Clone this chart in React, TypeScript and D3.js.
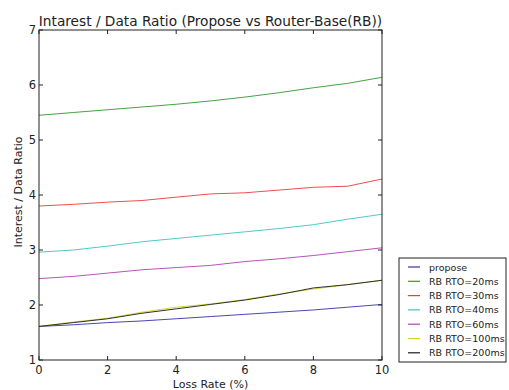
import React, { useRef, useEffect } from "react";
import * as d3 from "d3";

const LOSS_RATES = [0, 1, 2, 3, 4, 5, 6, 7, 8, 9, 10];
const PROPOSE = [1.61, 1.64, 1.68, 1.71, 1.75, 1.79, 1.83, 1.87, 1.91, 1.96, 2.01];
const RB_20 = [5.45, 5.5, 5.55, 5.6, 5.65, 5.71, 5.78, 5.86, 5.95, 6.03, 6.14];
const RB_30 = [3.8, 3.83, 3.87, 3.9, 3.96, 4.02, 4.04, 4.09, 4.14, 4.16, 4.29];
const RB_40 = [2.96, 3.0, 3.07, 3.15, 3.21, 3.27, 3.33, 3.39, 3.46, 3.56, 3.65];
const RB_60 = [2.48, 2.52, 2.58, 2.64, 2.68, 2.72, 2.79, 2.84, 2.9, 2.97, 3.04];
const RB_100 = [1.61, 1.69, 1.76, 1.87, 1.96, 2.02, 2.1, 2.2, 2.29, 2.37, 2.45];
const RB_200 = [1.61, 1.68, 1.75, 1.85, 1.93, 2.01, 2.09, 2.19, 2.31, 2.37, 2.45];

const SERIES_NAMES = [
  "propose",
  "RB RTO=20ms",
  "RB RTO=30ms",
  "RB RTO=40ms",
  "RB RTO=60ms",
  "RB RTO=100ms",
  "RB RTO=200ms",
];
const SERIES_VALUES = [PROPOSE, RB_20, RB_30, RB_40, RB_60, RB_100, RB_200];
const SERIES_COLORS = ["#3434a8", "#2f9a2f", "#ee3a3a", "#3cc4c4", "#b040b0", "#d4d42a", "#1a1a1a"];

const X_TICKS = [0, 2, 4, 6, 8, 10];
const Y_TICKS = [1, 2, 3, 4, 5, 6, 7];

const W = 509;
const H = 390;
const FONT = "'DejaVu Sans', sans-serif";

const App: React.FC = () => {
  const svgRef = useRef<SVGSVGElement | null>(null);

  useEffect(() => {
    if (!svgRef.current) return;
    const svg = d3.select(svgRef.current);
    svg.selectAll("*").remove();

    const margin = { top: 30, right: 127, bottom: 30, left: 39 };
    const innerW = W - margin.left - margin.right;
    const innerH = H - margin.top - margin.bottom;

    const x = d3.scaleLinear().domain([0, 10]).range([0, innerW]);
    const y = d3.scaleLinear().domain([1, 7]).range([innerH, 0]);

    const g = svg.append("g").attr("transform", `translate(${margin.left},${margin.top})`);

    // 线
    const line = d3
      .line<number>()
      .x((_, i) => x(LOSS_RATES[i]))
      .y((d) => y(d));

    SERIES_VALUES.forEach((vals, i) => {
      g.append("path")
        .datum(vals)
        .attr("d", line)
        .attr("fill", "none")
        .attr("stroke", SERIES_COLORS[i])
        .attr("stroke-width", 1)
        .attr("opacity", 0.9);
    });

    // 框
    g.append("rect")
      .attr("width", innerW)
      .attr("height", innerH)
      .attr("fill", "none")
      .attr("stroke", "#222")
      .attr("stroke-width", 1);

    const tickLen = 4;
    // x 刻度 (上下 inward)
    X_TICKS.forEach((t) => {
      g.append("line")
        .attr("x1", x(t)).attr("x2", x(t))
        .attr("y1", innerH).attr("y2", innerH - tickLen)
        .attr("stroke", "#222");
      g.append("line")
        .attr("x1", x(t)).attr("x2", x(t))
        .attr("y1", 0).attr("y2", tickLen)
        .attr("stroke", "#222");
      g.append("text")
        .attr("x", x(t))
        .attr("y", innerH + 14)
        .attr("text-anchor", "middle")
        .attr("font-family", FONT)
        .attr("font-size", "11.5px")
        .attr("fill", "#222")
        .text(t);
    });

    Y_TICKS.forEach((t) => {
      g.append("line")
        .attr("x1", 0).attr("x2", tickLen)
        .attr("y1", y(t)).attr("y2", y(t))
        .attr("stroke", "#222");
      g.append("line")
        .attr("x1", innerW).attr("x2", innerW - tickLen)
        .attr("y1", y(t)).attr("y2", y(t))
        .attr("stroke", "#222");
      g.append("text")
        .attr("x", -3)
        .attr("y", y(t) + 4)
        .attr("text-anchor", "end")
        .attr("font-family", FONT)
        .attr("font-size", "11.5px")
        .attr("fill", "#222")
        .text(t);
    });

    // 标题
    g.append("text")
      .attr("x", innerW / 2)
      .attr("y", -4)
      .attr("text-anchor", "middle")
      .attr("font-family", FONT)
      .attr("font-size", "13.7px")
      .attr("fill", "#222")
      .text("Intarest / Data Ratio (Propose vs Router-Base(RB))");

    g.append("text")
      .attr("x", innerW / 2)
      .attr("y", innerH + 28)
      .attr("text-anchor", "middle")
      .attr("font-family", FONT)
      .attr("font-size", "11px")
      .attr("fill", "#222")
      .text("Loss Rate (%)");

    g.append("text")
      .attr("transform", `translate(${-17},${innerH / 2 - 3}) rotate(-90)`)
      .attr("text-anchor", "middle")
      .attr("font-family", FONT)
      .attr("font-size", "11px")
      .attr("fill", "#222")
      .text("Interest / Data Ratio");

    // 图例
    const lg = svg.append("g").attr("transform", "translate(399,258)");
    lg.append("rect")
      .attr("width", 107)
      .attr("height", 104)
      .attr("fill", "#fff")
      .attr("stroke", "#222");
    SERIES_NAMES.forEach((name, i) => {
      const yy = 9 + i * 14.3;
      lg.append("line")
        .attr("x1", 9).attr("x2", 21)
        .attr("y1", yy).attr("y2", yy)
        .attr("stroke", SERIES_COLORS[i])
        .attr("stroke-width", 1.2);
      lg.append("text")
        .attr("x", 30)
        .attr("y", yy + 3.5)
        .attr("font-family", FONT)
        .attr("font-size", "9.5px")
        .attr("fill", "#222")
        .text(name);
    });
  }, []);

  return (
    <svg
      ref={svgRef}
      width={W}
      height={H}
      style={{ position: "absolute", left: 0, top: 0, background: "#fff" }}
    />
  );
};

export default App;
